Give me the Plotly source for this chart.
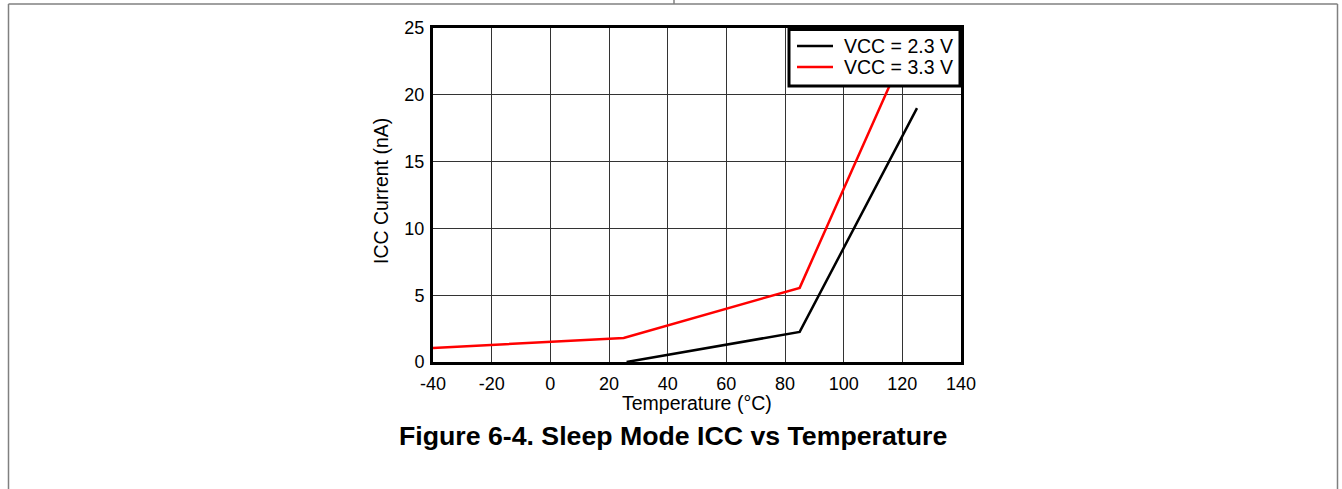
import plotly.graph_objects as go

# Data
temp_23 = [26, 85, 125]
icc_23 = [0.0, 2.25, 19.0]
temp_33 = [-40, 25, 85, 125]
icc_33 = [1.05, 1.8, 5.55, 25.3]
series_names = ["VCC = 2.3 V", "VCC = 3.3 V"]
series_colors = ["black", "#ff0000"]
x_ticks = [-40, -20, 0, 20, 40, 60, 80, 100, 120, 140]
x_tick_text = ["-40", "-20", "0", "20", "40", "60", "80", "100", "120", "140"]
y_ticks = [0, 5, 10, 15, 20, 25]
y_tick_text = ["0", "5", "10", "15", "20", "25"]

W, H = 1342, 489
L, R, T, B = 433, 961, 28, 362
pw, ph = R - L, B - T

def px(x):
    return (x - L) / pw

def py(y):
    return (B - y) / ph

fig = go.Figure()
fig.add_trace(go.Scatter(x=temp_23, y=icc_23, mode="lines", name=series_names[0],
                         line=dict(color=series_colors[0], width=2.5)))
fig.add_trace(go.Scatter(x=temp_33, y=icc_33, mode="lines", name=series_names[1],
                         line=dict(color=series_colors[1], width=2.5)))

font = "Liberation Sans, Arial, sans-serif"
fig.update_layout(
    width=W, height=H,
    margin=dict(l=L, r=W - R, t=T, b=H - B, pad=0),
    paper_bgcolor="white", plot_bgcolor="white",
    font=dict(family=font, color="black", size=18),
    showlegend=False,
    xaxis=dict(range=[-40, 140], tickvals=x_ticks, ticktext=x_tick_text, showgrid=True,
               gridcolor="#333333", gridwidth=1, showline=True, mirror=True,
               linecolor="black", linewidth=3, ticks="", zeroline=False,
               tickfont=dict(size=18, color="black"), ticklabelstandoff=3),
    yaxis=dict(range=[0, 25], tickvals=y_ticks, ticktext=y_tick_text, showgrid=True,
               gridcolor="#333333", gridwidth=1, showline=True, mirror=True,
               linecolor="black", linewidth=3, ticks="", zeroline=False,
               tickfont=dict(size=18, color="black"), ticklabelstandoff=2),
)

# Legend box (drawn to match the reference's compact legend)
fig.add_shape(type="rect", xref="paper", yref="paper", x0=px(789), x1=px(960), y0=py(86), y1=py(29.5),
              line=dict(color="black", width=3), fillcolor="white", layer="above")
for i, (nm, col) in enumerate(zip(series_names, series_colors)):
    yy = 46 + 21 * i
    fig.add_shape(type="line", xref="paper", yref="paper", x0=px(797), x1=px(833), y0=py(yy), y1=py(yy),
                  line=dict(color=col, width=2.5), layer="above")
    fig.add_annotation(text=nm, xref="paper", yref="paper", x=px(842), y=py(yy),
                       xanchor="left", yanchor="middle", showarrow=False, font=dict(size=19.5))

fig.add_annotation(text="Temperature (°C)", xref="paper", yref="paper",
                   x=px(697), y=py(403), xanchor="center", yanchor="middle",
                   showarrow=False, font=dict(size=19.5))
fig.add_annotation(text="ICC Current (nA)", xref="paper", yref="paper",
                   x=px(381), y=py(191), xanchor="center", yanchor="middle",
                   showarrow=False, textangle=-90, font=dict(size=19.5))
fig.add_annotation(text="<b>Figure 6-4. Sleep Mode ICC vs Temperature</b>", xref="paper", yref="paper",
                   x=px(673), y=py(436), xanchor="center", yanchor="middle",
                   showarrow=False, font=dict(size=26.7))

gray = "#808080"
fig.add_shape(type="line", xref="paper", yref="paper", x0=px(8.5), x1=px(1337.5), y0=py(4), y1=py(4),
              line=dict(color=gray, width=1.5))
fig.add_shape(type="line", xref="paper", yref="paper", x0=px(8.5), x1=px(8.5), y0=py(4), y1=py(489),
              line=dict(color=gray, width=1.5))
fig.add_shape(type="line", xref="paper", yref="paper", x0=px(1337.5), x1=px(1337.5), y0=py(4), y1=py(489),
              line=dict(color=gray, width=1.5))
fig.add_shape(type="line", xref="paper", yref="paper", x0=px(674), x1=px(674), y0=py(0), y1=py(4),
              line=dict(color=gray, width=1.5))

fig.write_html("out.html", config={"displayModeBar": False},
               post_script="document.body.style.margin='0';document.body.style.overflow='hidden';")
